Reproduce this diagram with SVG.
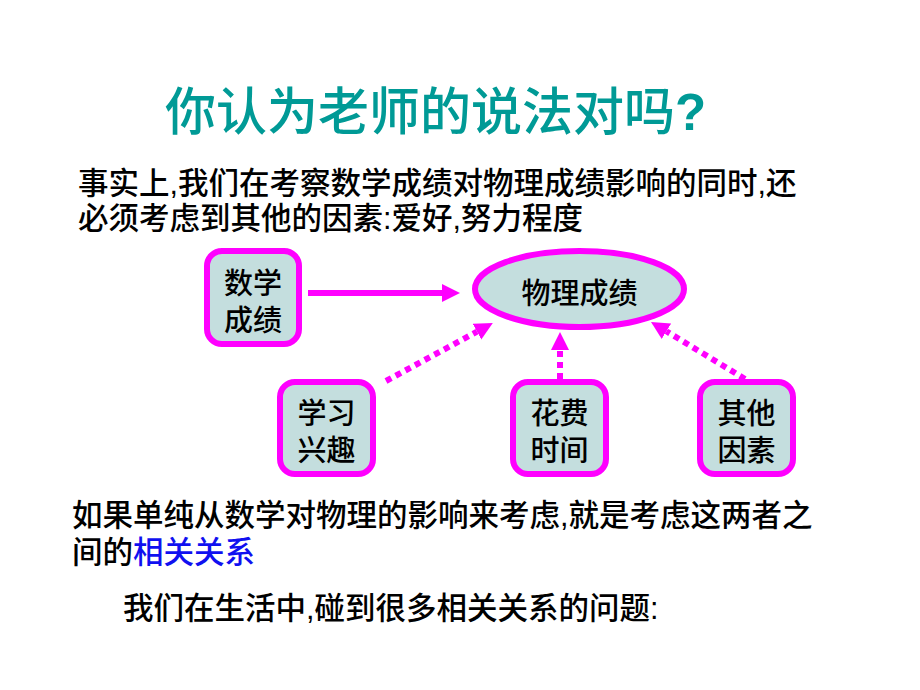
<svg xmlns="http://www.w3.org/2000/svg" width="920" height="690" viewBox="0 0 920 690">
  <defs>
    <style>
      .t { font-family: "Liberation Sans", "Noto Sans CJK SC", sans-serif; fill: #000; font-weight: 500; }
      .body { font-size: 30.5px; }
      .title { font-size: 51px; fill: #009A96; }
      .node rect, .node ellipse { fill: #C4DEDE; stroke: #FF00FF; stroke-width: 6; }
      .node text { font-family: "Liberation Sans", "Noto Sans CJK SC", sans-serif; font-size: 29px; font-weight: 500; fill: #000; text-anchor: middle; }
      .conn line { stroke: #FF00FF; stroke-width: 6; fill: none; }
      .dot { stroke-dasharray: 6 5; }
    </style>
    <marker id="ah" viewBox="0 -10 20 20" refX="0" refY="0" markerWidth="20" markerHeight="20" markerUnits="userSpaceOnUse" orient="auto">
      <path d="M0,-9 L18,0 L0,9 z" fill="#FF00FF"/>
    </marker>
  </defs>
  <rect width="920" height="690" fill="#FFFFFF"/>

  <text class="t title" x="165" y="130">你认为老师的说法对吗<tspan font-weight="bold">?</tspan></text>

  <text class="t body" x="78" y="194">事实上,我们在考察数学成绩对物理成绩影响的同时,还</text>
  <text class="t body" x="78" y="229">必须考虑到其他的因素:爱好,努力程度</text>

  <g class="conn">
    <line x1="308" y1="293" x2="442" y2="293" marker-end="url(#ah)"/>
    <line class="dot" x1="386" y1="381" x2="477" y2="331.6" marker-end="url(#ah)"/>
    <line class="dot" x1="560" y1="379" x2="560" y2="350" marker-end="url(#ah)"/>
    <line class="dot" x1="745" y1="379" x2="666.4" y2="331.3" marker-end="url(#ah)"/>
  </g>

  <g id="node-math" class="node">
    <rect x="207" y="251" width="92" height="93" rx="15"/>
    <text x="253" y="294">数学</text>
    <text x="253" y="331">成绩</text>
  </g>
  <g id="node-physics" class="node">
    <ellipse cx="579.5" cy="289" rx="104.5" ry="38"/>
    <text x="579.5" y="304">物理成绩</text>
  </g>
  <g id="node-interest" class="node">
    <rect x="280" y="382" width="93" height="92" rx="15"/>
    <text x="326.5" y="424">学习</text>
    <text x="326.5" y="461">兴趣</text>
  </g>
  <g id="node-time" class="node">
    <rect x="513" y="382" width="93" height="92" rx="15"/>
    <text x="559.5" y="424">花费</text>
    <text x="559.5" y="461">时间</text>
  </g>
  <g id="node-other" class="node">
    <rect x="700" y="382" width="93" height="92" rx="15"/>
    <text x="746.5" y="424">其他</text>
    <text x="746.5" y="461">因素</text>
  </g>

  <text class="t body" x="72" y="526">如果单纯从数学对物理的影响来考虑,就是考虑这两者之</text>
  <text class="t body" x="72" y="563">间的<tspan fill="#1010F0">相关关系</tspan></text>
  <text class="t body" x="123" y="619">我们在生活中,碰到很多相关关系的问题:</text>
</svg>
